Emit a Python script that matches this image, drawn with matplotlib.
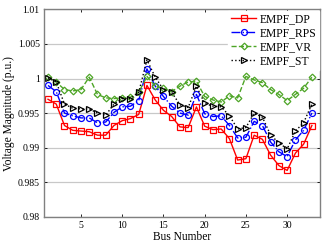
import matplotlib
matplotlib.use('Agg')
import matplotlib.pyplot as plt
import numpy as np

plt.rcParams['font.family'] = ['Liberation Serif', 'DejaVu Serif']

# Data
bus = np.arange(1, 34)
dp = [0.9970, 0.9963, 0.9932, 0.9925, 0.9924, 0.9923, 0.9918, 0.9918, 0.9932, 0.9939,
      0.9942, 0.9948, 0.9990, 0.9969, 0.9954, 0.9945, 0.9930, 0.9929, 0.9959, 0.9931,
      0.9926, 0.9927, 0.9913, 0.9882, 0.9884, 0.9918, 0.9912, 0.9889, 0.9874, 0.9867,
      0.9892, 0.9905, 0.9932]
rps = [0.9990, 0.9981, 0.9950, 0.9946, 0.9943, 0.9943, 0.9936, 0.9937, 0.9951, 0.9959,
       0.9960, 0.9968, 1.0014, 0.9989, 0.9974, 0.9960, 0.9950, 0.9947, 0.9977, 0.9949,
       0.9945, 0.9946, 0.9932, 0.9914, 0.9915, 0.9938, 0.9932, 0.9908, 0.9894, 0.9887,
       0.9911, 0.9925, 0.9950]
vr = [1.0002, 0.9995, 0.9984, 0.9982, 0.9984, 1.0002, 0.9977, 0.9972, 0.9971, 0.9972,
      0.9973, 0.9980, 1.0003, 0.9989, 0.9986, 0.9981, 0.9989, 0.9995, 0.9996, 0.9974,
      0.9969, 0.9966, 0.9975, 0.9972, 1.0003, 0.9998, 0.9994, 0.9984, 0.9977, 0.9968,
      0.9977, 0.9986, 1.0002]
st = [1.0001, 0.9995, 0.9963, 0.9957, 0.9956, 0.9956, 0.9950, 0.9947, 0.9963, 0.9971,
      0.9971, 0.9980, 1.0027, 1.0002, 0.9984, 0.9980, 0.9962, 0.9958, 0.9989, 0.9964,
      0.9960, 0.9959, 0.9946, 0.9927, 0.9929, 0.9950, 0.9944, 0.9918, 0.9907, 0.9898,
      0.9924, 0.9936, 0.9963]

xticks = [5, 10, 15, 20, 25, 30]
yticks = [0.98, 0.985, 0.99, 0.995, 1.0, 1.005, 1.01]
ytick_labels = ['0.98', '0.985', '0.99', '0.995', '1', '1.005', '1.01']

green = '#4DA526'

fig = plt.figure(figsize=(3.25, 2.45), dpi=100)
ax = fig.add_axes([0.135, 0.1155, 0.85, 0.846])

ms = 4.3
ax.plot(bus, dp, '-', color='red', lw=1.0, marker='s', ms=ms, mfc='none',
        mec='red', mew=0.9, label='EMPF_DP')
ax.plot(bus, rps, '-.', color='blue', lw=1.0, marker='o', ms=ms, mfc='none',
        mec='blue', mew=0.9, label='EMPF_RPS')
ax.plot(bus, vr, '--', color=green, lw=1.0, marker='D', ms=3.4, mfc='none',
        mec=green, mew=0.9, label='EMPF_VR')
ax.plot(bus, st, ':', color='black', lw=1.0, marker='>', ms=ms, mfc='none',
        mec='black', mew=0.9, label='EMPF_ST')

ax.set_xlim(0.5, 34)
ax.set_ylim(0.98, 1.01)
ax.set_xticks(xticks)
ax.set_yticks(yticks)
ax.set_yticklabels(ytick_labels)
ax.tick_params(direction='in', length=2.5, width=0.6, labelsize=7,
               top=True, right=True, pad=3)
ax.yaxis.grid(True, color='#c8c8c8', lw=0.9)
ax.set_axisbelow(True)
for s in ax.spines.values():
    s.set_color('#808080')
    s.set_linewidth(1.0)

ax.set_xlabel('Bus Number', fontsize=8.3, labelpad=1)
ax.set_ylabel('Voltage Magnitude (p.u.)', fontsize=8.3, labelpad=2)

leg = ax.legend(loc='upper right', fontsize=8.4, handlelength=2.1,
                labelspacing=0.15, handletextpad=0.3, borderaxespad=0.1,
                borderpad=0.25, fancybox=False, framealpha=1, edgecolor='white')

fig.savefig('out.png', dpi=100)
